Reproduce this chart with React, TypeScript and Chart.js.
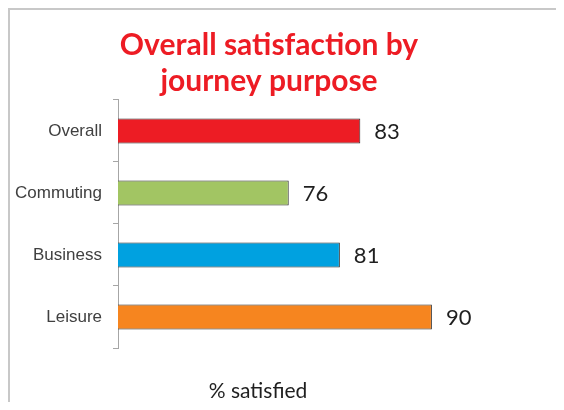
import React, { useEffect, useRef } from "react";
import { Chart, registerables } from "chart.js";

Chart.register(...registerables);

const categories = ["Overall", "Commuting", "Business", "Leisure"];
const satisfied = [83, 76, 81, 90];
const barColors = ["#ED1C24", "#A2C563", "#00A1E0", "#F6851F"];
const titleLines = ["Overall satisfaction by", "journey purpose"];
const axisTitle = "% satisfied";
const xMin = 59.3;
const xMax = 99.4;

const frame = {
  id: "frame",
  beforeDraw(chart: any) {
    const ctx = chart.ctx;
    ctx.save();
    ctx.fillStyle = "#c8c8c8";
    ctx.fillRect(8, 8, 1000, 2);
    ctx.fillRect(8, 8, 2, 1000);
    ctx.restore();
  },
};

const valueLabels = {
  id: "valueLabels",
  afterDatasetsDraw(chart: any) {
    const ctx = chart.ctx;
    const meta = chart.getDatasetMeta(0);
    const data = chart.data.datasets[0].data;
    ctx.save();
    ctx.font = "22px Lato";
    ctx.fillStyle = "#1f1f1f";
    ctx.textAlign = "left";
    ctx.textBaseline = "alphabetic";
    meta.data.forEach((bar: any, i: number) => {
      ctx.fillText(String(data[i]), bar.x + 14, bar.y + 8);
    });
    ctx.restore();
  },
};

const axisTitlePlugin = {
  id: "axisTitlePlugin",
  afterDraw(chart: any) {
    const ctx = chart.ctx;
    const area = chart.chartArea;
    ctx.save();
    ctx.font = "21px Lato";
    ctx.fillStyle = "#1f1f1f";
    ctx.textAlign = "center";
    ctx.textBaseline = "alphabetic";
    ctx.fillText(axisTitle, area.left + 140, area.bottom + 50);
    ctx.restore();
  },
};

export default function App() {
  const ref = useRef<HTMLCanvasElement>(null);

  useEffect(() => {
    const canvas = ref.current!;
    const chart = new Chart(canvas, {
      type: "bar",
      data: {
        labels: categories,
        datasets: [
          {
            data: satisfied,
            backgroundColor: barColors,
            borderColor: "#2b2b2b",
            borderWidth: 1,
            borderSkipped: false,
            categoryPercentage: 1,
            barPercentage: 0.4,
          },
        ],
      },
      options: {
        indexAxis: "y",
        responsive: false,
        animation: false,
        layout: { padding: { left: 10, right: 36, top: 10, bottom: 62 } },
        plugins: {
          legend: { display: false },
          tooltip: { enabled: false },
          title: {
            display: true,
            text: titleLines,
            color: "#ED1C24",
            font: { family: "Lato", size: 30, weight: "bold", lineHeight: 1.1833 },
            padding: { top: 18, bottom: 1 },
          },
        },
        scales: {
          x: {
            display: false,
            min: xMin,
            max: xMax,
          },
          y: {
            afterFit: (scale: any) => {
              scale.width = 108;
            },
            border: { display: true, color: "#a6a6a6", width: 1 },
            grid: {
              display: true,
              drawOnChartArea: false,
              drawTicks: true,
              tickLength: 5,
              color: "#a6a6a6",
              offset: true,
            },
            ticks: {
              color: "#404040",
              padding: 11,
              font: { family: "Liberation Sans", size: 17 },
            },
          },
        },
      },
      plugins: [frame, valueLabels, axisTitlePlugin],
    });
    return () => chart.destroy();
  }, []);

  return (
    <div style={{ margin: -8, width: 564, height: 410 }}>
      <canvas ref={ref} width={564} height={410} style={{ display: "block" }} />
    </div>
  );
}
